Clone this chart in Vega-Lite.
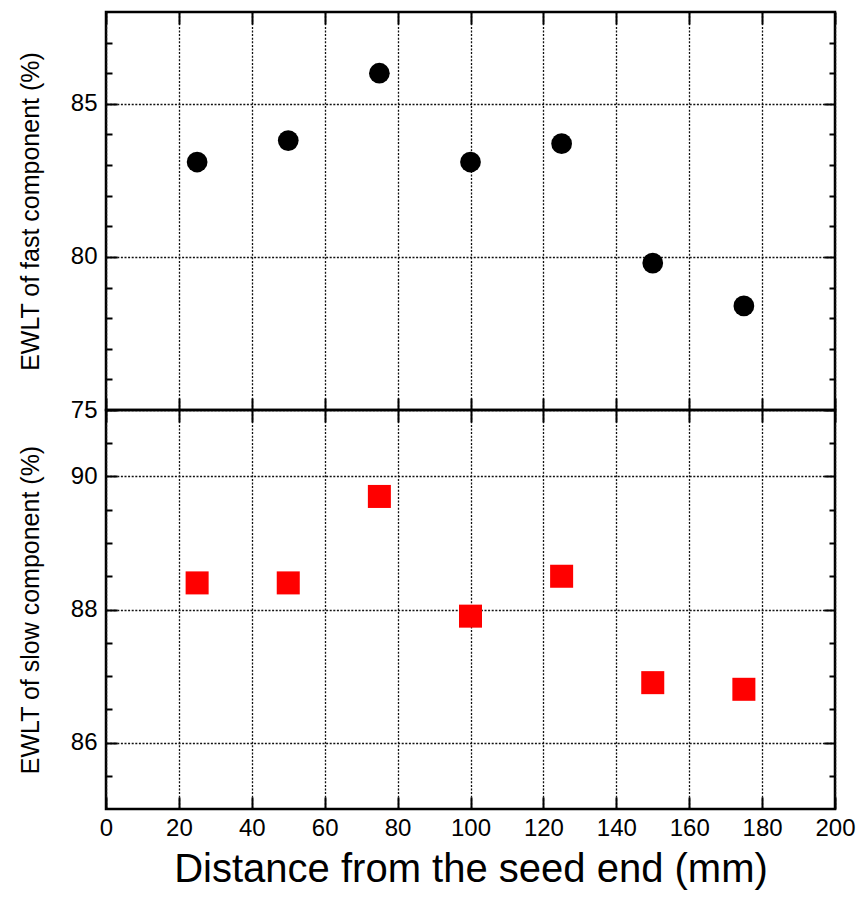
{
  "$schema": "https://vega.github.io/schema/vega-lite/v6.json",
  "padding": {"left": 17, "top": 9, "right": 23, "bottom": 5},
  "background": "white",
  "bounds": "flush",
  "config": {
    "font": "Liberation Sans",
    "view": {"stroke": "black", "strokeWidth": 2.5},
    "axis": {
      "labelFont": "Liberation Sans",
      "titleFont": "Liberation Sans",
      "labelColor": "black",
      "titleColor": "black",
      "titleFontWeight": "normal",
      "labelFontSize": 24,
      "tickColor": "black",
      "tickWidth": 2,
      "gridColor": "#111",
      "gridWidth": 1.3,
      "gridDash": [2, 1.6],
      "gridOpacity": 1,
      "domain": false
    },
    "concat": {"spacing": 0}
  },
  "data": {
    "values": [
      {"d": 25, "fast": 83.1, "slow": 88.4},
      {"d": 50, "fast": 83.8, "slow": 88.4},
      {"d": 75, "fast": 86.0, "slow": 89.7},
      {"d": 100, "fast": 83.1, "slow": 87.9},
      {"d": 125, "fast": 83.7, "slow": 88.5},
      {"d": 150, "fast": 79.8, "slow": 86.9},
      {"d": 175, "fast": 78.4, "slow": 86.8}
    ]
  },
  "spacing": 0,
  "vconcat": [
    {
      "width": 729,
      "height": 398,
      "resolve": {"axis": {"x": "independent", "y": "independent"}},
      "layer": [
        {
          "mark": {"type": "circle", "size": 430, "color": "black", "opacity": 1},
          "encoding": {
            "x": {"field": "d", "type": "quantitative", "scale": {"domain": [0, 200], "nice": false},
              "axis": {"orient": "bottom", "values": [0, 20, 40, 60, 80, 100, 120, 140, 160, 180, 200], "grid": true, "ticks": false, "labels": false, "title": null}},
            "y": {"field": "fast", "type": "quantitative", "scale": {"domain": [75, 88], "nice": false, "zero": false},
              "axis": {"orient": "left", "values": [75, 80, 85], "grid": true, "ticks": false, "labelPadding": 9, "title": "EWLT of fast component (%)", "titleFontSize": 25, "titlePadding": 27}}
          }
        },
        {
          "mark": {"type": "point", "opacity": 0},
          "encoding": {
            "x": {"field": "d", "type": "quantitative", "axis": {"orient": "bottom", "values": [0, 20, 40, 60, 80, 100, 120, 140, 160, 180, 200], "grid": false, "ticks": true, "tickSize": -12, "labels": false, "title": null}},
            "y": {"field": "fast", "type": "quantitative", "axis": {"orient": "left", "values": [75, 80, 85], "grid": false, "ticks": true, "tickSize": -11, "labels": false, "title": null}}
          }
        },
        {
          "mark": {"type": "point", "opacity": 0},
          "encoding": {
            "x": {"field": "d", "type": "quantitative", "axis": {"orient": "top", "values": [0, 20, 40, 60, 80, 100, 120, 140, 160, 180, 200], "grid": false, "ticks": true, "tickSize": -12, "labels": false, "title": null}},
            "y": {"field": "fast", "type": "quantitative", "axis": {"orient": "right", "values": [75, 80, 85], "grid": false, "ticks": true, "tickSize": -11, "labels": false, "title": null}}
          }
        },
        {
          "mark": {"type": "point", "opacity": 0},
          "encoding": {
            "x": {"field": "d", "type": "quantitative", "axis": null},
            "y": {"field": "fast", "type": "quantitative", "axis": {"orient": "left", "values": [76, 77, 78, 79, 81, 82, 83, 84, 86, 87], "grid": false, "ticks": true, "tickSize": -6, "labels": false, "title": null}}
          }
        },
        {
          "mark": {"type": "point", "opacity": 0},
          "encoding": {
            "x": {"field": "d", "type": "quantitative", "axis": null},
            "y": {"field": "fast", "type": "quantitative", "axis": {"orient": "right", "values": [76, 77, 78, 79, 81, 82, 83, 84, 86, 87], "grid": false, "ticks": true, "tickSize": -6, "labels": false, "title": null}}
          }
        }
      ]
    },
    {
      "width": 729,
      "height": 399,
      "resolve": {"axis": {"x": "independent", "y": "independent"}},
      "layer": [
        {
          "mark": {"type": "square", "size": 530, "color": "#ff0000", "opacity": 1},
          "encoding": {
            "x": {"field": "d", "type": "quantitative", "scale": {"domain": [0, 200], "nice": false},
              "axis": {"orient": "bottom", "values": [0, 20, 40, 60, 80, 100, 120, 140, 160, 180, 200], "grid": true, "ticks": false, "labels": true, "labelPadding": 7, "labelFlush": false, "title": "Distance from the seed end (mm)", "titleFontSize": 40, "titlePadding": 9}},
            "y": {"field": "slow", "type": "quantitative", "scale": {"domain": [85, 91], "nice": false, "zero": false},
              "axis": {"orient": "left", "values": [86, 88, 90], "grid": true, "ticks": false, "labelPadding": 9, "title": "EWLT of slow component (%)", "titleFontSize": 25, "titlePadding": 27}}
          }
        },
        {
          "mark": {"type": "point", "opacity": 0},
          "encoding": {
            "x": {"field": "d", "type": "quantitative", "axis": {"orient": "bottom", "values": [0, 20, 40, 60, 80, 100, 120, 140, 160, 180, 200], "grid": false, "ticks": true, "tickSize": -12, "labels": false, "title": null}},
            "y": {"field": "slow", "type": "quantitative", "axis": {"orient": "left", "values": [86, 88, 90], "grid": false, "ticks": true, "tickSize": -11, "labels": false, "title": null}}
          }
        },
        {
          "mark": {"type": "point", "opacity": 0},
          "encoding": {
            "x": {"field": "d", "type": "quantitative", "axis": {"orient": "top", "values": [0, 20, 40, 60, 80, 100, 120, 140, 160, 180, 200], "grid": false, "ticks": true, "tickSize": -12, "labels": false, "title": null}},
            "y": {"field": "slow", "type": "quantitative", "axis": {"orient": "right", "values": [86, 88, 90], "grid": false, "ticks": true, "tickSize": -11, "labels": false, "title": null}}
          }
        },
        {
          "mark": {"type": "point", "opacity": 0},
          "encoding": {
            "x": {"field": "d", "type": "quantitative", "axis": null},
            "y": {"field": "slow", "type": "quantitative", "axis": {"orient": "left", "values": [85.5, 86.5, 87, 87.5, 88.5, 89, 89.5, 90.5], "grid": false, "ticks": true, "tickSize": -6, "labels": false, "title": null}}
          }
        },
        {
          "mark": {"type": "point", "opacity": 0},
          "encoding": {
            "x": {"field": "d", "type": "quantitative", "axis": null},
            "y": {"field": "slow", "type": "quantitative", "axis": {"orient": "right", "values": [85.5, 86.5, 87, 87.5, 88.5, 89, 89.5, 90.5], "grid": false, "ticks": true, "tickSize": -6, "labels": false, "title": null}}
          }
        }
      ]
    }
  ]
}
